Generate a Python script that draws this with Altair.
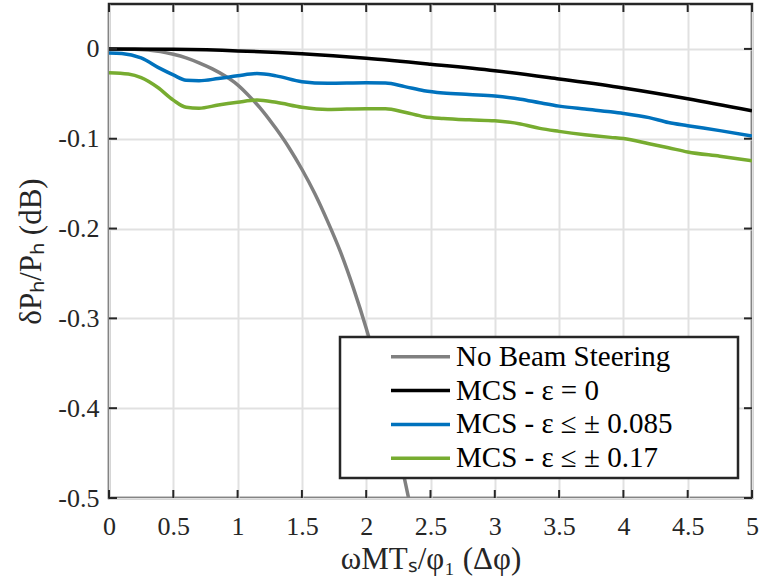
import altair as alt
import pandas as pd

# ---------------- data ----------------
series_names = ["No Beam Steering", "MCS - ε = 0", "MCS - ε ≤ ± 0.085", "MCS - ε ≤ ± 0.17"]
series_colors = ["#808080", "#000000", "#0072BD", "#77AC30"]

gray_x = [0, 0.2, 0.4, 0.5, 0.6, 0.7, 0.8, 0.9, 1.0, 1.1, 1.2, 1.3, 1.4, 1.5, 1.6, 1.7, 1.8, 1.9, 2.0,
          2.1, 2.2, 2.3, 2.4]
gray_y = [0, -0.0004, -0.003, -0.006, -0.010, -0.0155, -0.022, -0.030, -0.040, -0.054, -0.070, -0.089,
          -0.110, -0.134, -0.161, -0.192, -0.226, -0.266, -0.311, -0.362, -0.418, -0.480, -0.548]

black_x = [0, 0.5, 1.0, 1.5, 2.0, 2.5, 3.0, 3.5, 4.0, 4.5, 5.0]
black_y = [0, -0.0005, -0.0022, -0.0055, -0.0105, -0.017, -0.0242, -0.0335, -0.0435, -0.0555, -0.069]

blue_x = [0, 0.1, 0.25, 0.4, 0.5, 0.6, 0.7, 0.85, 1.0, 1.15, 1.3, 1.5, 1.7, 2.0, 2.15, 2.3, 2.45, 2.6, 2.8,
          3.0, 3.2, 3.35, 3.5, 3.7, 3.9, 4.0, 4.2, 4.35, 4.5, 4.75, 5.0]
blue_y = [-0.0045, -0.005, -0.010, -0.022, -0.029, -0.035, -0.0355, -0.033, -0.030, -0.0275, -0.030, -0.0365,
          -0.0383, -0.0378, -0.038, -0.042, -0.0465, -0.049, -0.0508, -0.0525, -0.056, -0.060, -0.0637, -0.067,
          -0.070, -0.0718, -0.0765, -0.082, -0.0855, -0.091, -0.097]

green_x = [0, 0.15, 0.25, 0.38, 0.5, 0.6, 0.7, 0.85, 1.0, 1.15, 1.3, 1.5, 1.7, 2.0, 2.15, 2.3, 2.45, 2.6, 2.8,
           3.0, 3.2, 3.35, 3.5, 3.7, 3.9, 4.0, 4.2, 4.35, 4.5, 4.75, 5.0]
green_y = [-0.0265, -0.028, -0.032, -0.043, -0.057, -0.065, -0.066, -0.0625, -0.0595, -0.057, -0.0595, -0.065,
           -0.0675, -0.0665, -0.0665, -0.0705, -0.0755, -0.0775, -0.079, -0.080, -0.0835, -0.0885, -0.0918,
           -0.0955, -0.0985, -0.0998, -0.1055, -0.110, -0.1147, -0.1195, -0.1245]

x_ticks = [0, 0.5, 1, 1.5, 2, 2.5, 3, 3.5, 4, 4.5, 5]
y_ticks = [-0.5, -0.4, -0.3, -0.2, -0.1, 0]

x_title = "ωMTₛ/φ₁ (Δφ)"
y_title = "δPₕ/Pₕ (dB)"

# ---------------- tables ----------------
rows = []
for name, xs, ys in zip(series_names, [gray_x, black_x, blue_x, green_x], [gray_y, black_y, blue_y, green_y]):
    for i, (xv, yv) in enumerate(zip(xs, ys)):
        rows.append({"series": name, "x": xv, "y": yv, "order": i})
df = pd.DataFrame(rows)
xt = pd.DataFrame({"x": x_ticks})
yt = pd.DataFrame({"y": y_ticks})
leg = pd.DataFrame({"series": series_names})

# ---------------- style ----------------
W, H = 643, 494
FONT = "Liberation Serif"
AX = "#262626"
GRID = "#e1e1e1"
TL = 8

xscale = alt.Scale(domain=[0, 5], nice=False, zero=False)
yscale = alt.Scale(domain=[-0.5, 0.05], nice=False, zero=False)

common_axis = dict(grid=True, gridColor=GRID, gridWidth=2, ticks=False, tickSize=0, domain=False,
                   labelFont=FONT, labelFontSize=26, labelColor=AX, labelFlush=False, labelOverlap=False,
                   titleFont=FONT, titleFontSize=31, titleColor=AX, titleFontWeight="normal",
                   labelExpr="toString(datum.value)")
xaxis = alt.Axis(values=x_ticks, title=x_title, labelPadding=15, titlePadding=5, **common_axis)
yaxis = alt.Axis(values=y_ticks, title=y_title, labelPadding=10, titlePadding=10, **common_axis)

X = alt.X("x:Q", scale=xscale, axis=xaxis)
Y = alt.Y("y:Q", scale=yscale, axis=yaxis)
color = alt.Color("series:N", scale=alt.Scale(domain=series_names, range=series_colors), legend=None)

lines = alt.Chart(df).mark_line(strokeWidth=3.5, clip=True, interpolate="monotone").encode(
    x=X, y=Y, color=color, order="order:Q")

top_ticks = alt.Chart(xt).mark_rule(color=AX, strokeWidth=2).encode(x=X, y=alt.value(0), y2=alt.value(TL))
bot_ticks = alt.Chart(xt).mark_rule(color=AX, strokeWidth=2).encode(x=X, y=alt.value(H - TL), y2=alt.value(H))
left_ticks = alt.Chart(yt).mark_rule(color=AX, strokeWidth=2).encode(y=Y, x=alt.value(0), x2=alt.value(TL))
right_ticks = alt.Chart(yt).mark_rule(color=AX, strokeWidth=2).encode(y=Y, x=alt.value(W - TL), x2=alt.value(W))

main = alt.layer(lines, top_ticks, bot_ticks, left_ticks, right_ticks)

# ---------------- legend ----------------
leg_y = alt.Y("series:N", scale=alt.Scale(type="point", domain=series_names, range=[352.7, 454.3], padding=0),
              axis=None)
box = alt.Chart(alt.Data(values=[{"k": 1}])).mark_rect(fill="white", stroke=AX, strokeWidth=2.5).encode(
    x=alt.value(231), x2=alt.value(629), y=alt.value(333), y2=alt.value(474))
leg_lines = alt.Chart(leg).mark_rule(strokeWidth=3.5).encode(
    x=alt.value(282), x2=alt.value(341), y=leg_y, color=color)
leg_text = alt.Chart(leg).mark_text(align="left", baseline="middle", font=FONT, fontSize=29, color="black").encode(
    x=alt.value(347), y=leg_y, text="series:N")
legend = alt.layer(box, leg_lines, leg_text)

chart = alt.layer(main, legend).resolve_scale(y="independent").properties(
    width=W, height=H,
    padding={"left": 109, "top": 4, "right": 759 - 109 - W, "bottom": 584 - 4 - H},
    autosize=alt.AutoSizeParams(type="none"),
    background="white",
).configure_view(stroke=AX, strokeWidth=2.5)

chart.save("out.html", embed_options={"renderer": "svg", "actions": False})
